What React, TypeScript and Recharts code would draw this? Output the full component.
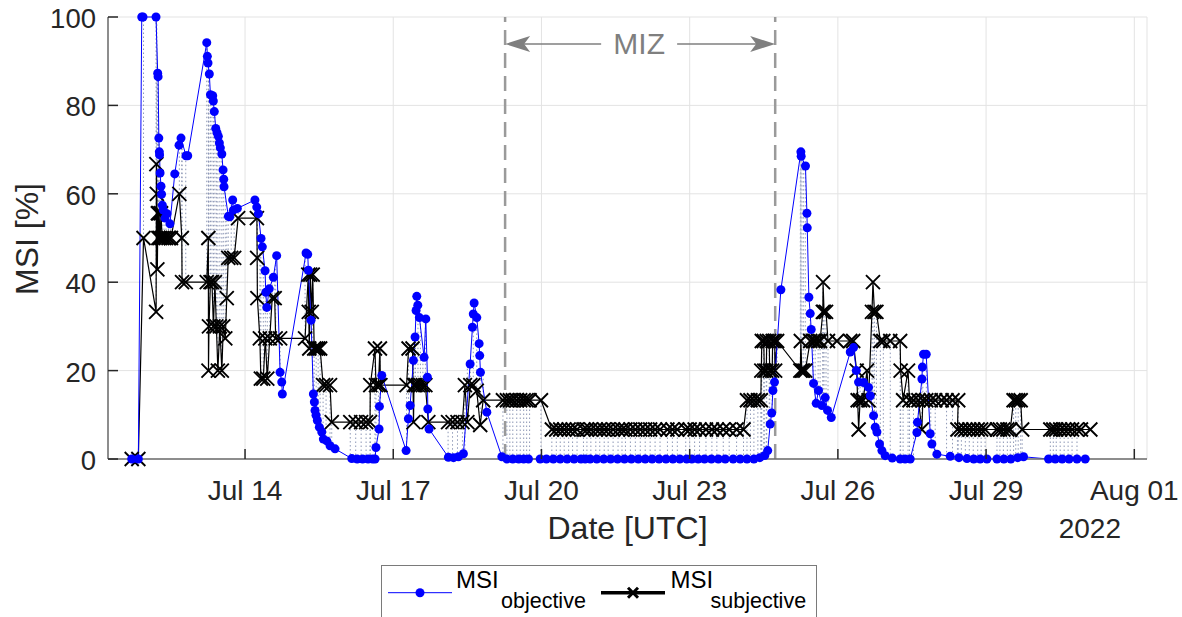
import { ComposedChart, Line, XAxis, YAxis, CartesianGrid, ReferenceLine, ErrorBar } from 'recharts';

// time axis in fractional days of July 2022 (Aug 01 = 32)
const xTicks = [14, 17, 20, 23, 26, 29, 32];
const xTickLabels = ['Jul 14', 'Jul 17', 'Jul 20', 'Jul 23', 'Jul 26', 'Jul 29', 'Aug 01'];
const yTicks = [0, 20, 40, 60, 80, 100];
const mizStart = 19.264;
const mizEnd = 24.731;

// [day, MSI %]
const objective: [number, number][] = [
  [11.706, 0], [11.84, 0], [11.909, 100], [11.935, 100], [12.198, 100], [12.232, 87.3], [12.24, 86.5],
  [12.255, 72.6], [12.265, 69.5], [12.27, 68.8], [12.28, 64.7], [12.299, 61.7], [12.31, 59.9], [12.326, 57.4],
  [12.346, 56.3], [12.38, 54.5], [12.42, 55.5], [12.48, 53.2], [12.577, 64.5], [12.664, 71], [12.704, 72.6],
  [12.805, 68.6], [12.84, 68.6],
  [13.225, 94.2], [13.237, 91.1], [13.25, 89.6], [13.277, 87.1], [13.3, 82.4], [13.346, 82.2], [13.358, 81],
  [13.378, 78.6], [13.407, 74.8], [13.433, 73.8], [13.46, 73], [13.48, 71.5], [13.5, 70.4], [13.53, 69],
  [13.555, 65.4], [13.569, 63.3], [13.575, 61.6], [13.662, 54.9], [13.69, 54.8], [13.75, 58.6], [13.763, 56.3],
  [13.844, 56.7],
  [14.2, 58.6], [14.237, 57], [14.27, 55.5], [14.324, 49.9], [14.35, 48], [14.405, 42.6], [14.42, 37.7],
  [14.44, 34.3], [14.49, 38.5], [14.573, 41.1], [14.64, 46], [14.709, 19.6], [14.743, 17.4], [14.755, 14.7],
  [15.235, 46.6], [15.269, 46.3], [15.282, 42.7], [15.336, 31.4], [15.383, 14.7], [15.403, 12.9], [15.417, 11],
  [15.437, 9.9], [15.464, 8.7], [15.504, 7.2], [15.553, 6.1], [15.585, 4.5], [15.654, 4.1], [15.721, 3],
  [15.822, 2.3], [16.16, 0.1], [16.27, 0], [16.38, 0], [16.49, 0], [16.58, 0], [16.632, 0], [16.65, 2.6],
  [16.713, 6.8], [16.72, 11.9], [16.768, 18.9],
  [17.26, 1.9], [17.306, 9.1], [17.341, 12.1], [17.408, 22.3], [17.442, 27.6], [17.462, 33.6], [17.476, 36.8],
  [17.497, 34.8], [17.529, 32], [17.624, 23], [17.659, 31.7], [17.691, 18.5], [17.7, 11.3], [17.725, 6.8],
  [18.116, 0.4], [18.22, 0.3], [18.32, 0.5], [18.42, 1.2], [18.556, 21.5], [18.603, 29.8], [18.62, 32.8],
  [18.637, 35.3], [18.691, 32], [18.738, 26.1], [18.75, 23.4], [18.765, 19.6], [18.894, 10.6],
  [19.198, 0.5], [19.3, 0], [19.42, 0], [19.54, 0], [19.64, 0], [19.737, 0], [19.973, 0], [20.1, 0], [20.24, 0],
  [20.38, 0], [20.52, 0], [20.66, 0], [20.8, 0], [20.884, 0], [20.985, 0], [21.12, 0], [21.26, 0], [21.4, 0],
  [21.54, 0], [21.68, 0], [21.82, 0], [21.96, 0], [22.1, 0], [22.24, 0], [22.38, 0], [22.52, 0], [22.66, 0],
  [22.8, 0], [22.94, 0], [23.044, 0], [23.172, 0], [23.3, 0], [23.44, 0], [23.58, 0], [23.72, 0], [23.88, 0],
  [24.022, 0], [24.16, 0], [24.3, 0], [24.42, 0.3], [24.52, 0.8], [24.58, 1.9], [24.63, 7.9], [24.66, 10.4],
  [24.685, 15.5], [24.717, 17.4], [24.846, 38.3],
  [25.251, 69.5], [25.257, 68.5], [25.344, 66.3], [25.373, 55.6], [25.38, 52.3], [25.413, 36.6], [25.44, 32.9],
  [25.46, 29.3], [25.507, 17.1], [25.561, 12.6], [25.608, 15.5], [25.677, 12.1], [25.744, 13.9], [25.791, 11],
  [25.866, 9.4],
  [26.25, 24.2], [26.317, 25.2], [26.372, 20], [26.418, 17.4], [26.52, 17.3], [26.621, 16.2], [26.655, 14.3],
  [26.722, 9.8], [26.756, 7.2], [26.79, 6.1], [26.843, 3.4], [26.891, 1.9], [26.958, 0.75], [27.1, 0.2],
  [27.262, 0], [27.36, 0], [27.464, 0], [27.6, 6], [27.61, 8.3], [27.701, 18.1], [27.71, 20.8], [27.734, 23.7],
  [27.788, 23.7], [27.869, 5.7], [27.903, 3.4], [28.004, 1.1], [28.274, 0.6], [28.45, 0.3], [28.612, 0.1],
  [28.75, 0], [28.88, 0], [29.017, 0], [29.22, 0], [29.36, 0], [29.5, 0], [29.64, 0.3], [29.758, 0.5],
  [30.264, 0], [30.4, 0], [30.54, 0], [30.68, 0], [30.839, 0], [31.007, 0],
];

const subjective: [number, number][] = [
  [11.706, 0], [11.84, 0], [11.945, 50], [12.2, 33.3], [12.205, 66.7], [12.215, 60], [12.225, 42.9],
  [12.235, 55.6], [12.245, 50], [12.26, 55.6], [12.28, 50], [12.3, 55.6], [12.32, 50], [12.36, 50], [12.4, 50],
  [12.45, 50], [12.5, 50], [12.67, 60], [12.72, 50], [12.725, 40], [12.8, 40],
  [13.225, 40], [13.257, 50], [13.26, 20], [13.27, 30], [13.3, 40], [13.33, 40], [13.36, 30], [13.39, 40],
  [13.42, 30], [13.45, 20], [13.49, 30], [13.53, 20], [13.56, 30], [13.6, 27.3], [13.63, 36.4], [13.66, 45.5],
  [13.72, 45.5], [13.78, 45.5], [13.86, 54.5],
  [14.24, 54.5], [14.245, 45.5], [14.25, 36.4], [14.3, 27.3], [14.32, 18.2], [14.37, 18.2], [14.41, 27.3],
  [14.45, 18.2], [14.5, 27.3], [14.55, 36.4], [14.6, 36.4], [14.62, 27.3], [14.71, 27.3],
  [15.215, 27.3], [15.28, 41.7], [15.29, 33.3], [15.3, 25], [15.32, 41.7], [15.35, 33.3], [15.37, 41.7],
  [15.4, 25], [15.44, 25], [15.48, 25], [15.52, 25], [15.58, 16.7], [15.64, 16.7], [15.72, 16.7], [15.755, 8.33],
  [16.13, 8.33], [16.24, 8.33], [16.35, 8.33], [16.45, 8.33], [16.53, 8.33], [16.535, 16.7], [16.63, 25],
  [16.65, 16.7], [16.7, 16.7], [16.73, 25], [16.74, 16.7],
  [17.27, 16.7], [17.31, 25], [17.39, 25], [17.41, 8.33], [17.42, 16.7], [17.45, 16.7], [17.5, 16.7],
  [17.55, 16.7], [17.6, 16.7], [17.65, 16.7], [17.71, 8.33],
  [18.11, 8.33], [18.2, 8.33], [18.3, 8.33], [18.4, 8.33], [18.45, 16.7], [18.5, 8.33], [18.56, 16.7],
  [18.62, 16.7], [18.69, 15.4], [18.76, 7.7], [18.82, 13.3],
  [19.22, 13.3], [19.3, 13.3], [19.36, 13.3], [19.42, 13.3], [19.5, 13.3], [19.57, 13.3], [19.64, 13.3],
  [19.7, 13.3], [19.76, 13.3], [19.99, 13.3],
  [20.21, 6.67], [20.3, 6.67], [20.38, 6.67], [20.46, 6.67], [20.55, 6.67], [20.63, 6.67], [20.72, 6.67],
  [20.85, 6.67], [20.92, 6.67], [21.0, 6.67], [21.1, 6.67], [21.18, 6.67], [21.27, 6.67], [21.35, 6.67],
  [21.45, 6.67], [21.55, 6.67], [21.63, 6.67], [21.7, 6.67], [21.8, 6.67], [21.9, 6.67], [22.0, 6.67],
  [22.1, 6.67], [22.2, 6.67], [22.3, 6.67], [22.4, 6.67], [22.55, 6.67], [22.65, 6.67], [22.75, 6.67],
  [22.92, 6.67], [23.0, 6.67], [23.1, 6.67], [23.2, 6.67], [23.33, 6.67], [23.45, 6.67], [23.55, 6.67],
  [23.68, 6.67], [23.8, 6.67], [23.95, 6.67], [24.09, 6.67],
  [24.16, 13.3], [24.23, 13.3], [24.3, 13.3], [24.38, 13.3], [24.44, 13.3], [24.45, 20], [24.46, 26.7],
  [24.5, 26.7], [24.51, 20], [24.55, 20], [24.56, 26.7], [24.61, 26.7], [24.62, 20], [24.67, 20],
  [24.68, 26.7], [24.72, 26.7], [24.73, 20], [24.77, 26.7],
  [25.24, 20], [25.25, 26.7], [25.27, 20], [25.3, 20], [25.34, 20], [25.44, 26.7], [25.5, 26.7],
  [25.54, 26.7], [25.6, 26.7], [25.64, 26.7], [25.695, 33.3], [25.7, 40], [25.72, 33.3], [25.76, 33.3],
  [25.8, 26.7], [25.98, 26.7],
  [26.25, 26.7], [26.31, 26.7], [26.38, 20], [26.4, 13.3], [26.42, 6.67], [26.45, 13.3], [26.51, 13.3],
  [26.59, 20], [26.62, 13.3], [26.69, 33.3], [26.71, 40], [26.74, 33.3], [26.78, 33.3], [26.86, 26.7],
  [26.92, 26.7], [27.06, 26.7], [27.26, 26.7], [27.27, 20], [27.32, 13.3], [27.42, 20], [27.45, 13.3],
  [27.53, 13.3], [27.63, 13.3], [27.7, 6.67], [27.72, 13.3], [27.79, 13.3], [27.88, 13.3], [27.97, 13.3],
  [28.1, 13.3], [28.2, 13.3], [28.32, 13.3], [28.436, 13.3], [28.42, 6.67], [28.5, 6.67], [28.58, 6.67],
  [28.66, 6.67], [28.74, 6.67], [28.83, 6.67], [28.9, 6.67], [28.98, 6.67], [29.22, 6.67], [29.28, 6.67],
  [29.35, 6.67], [29.43, 6.67], [29.49, 6.67], [29.556, 13.3], [29.6, 13.3], [29.65, 13.3], [29.7, 13.3],
  [29.73, 6.67], [30.3, 6.67], [30.36, 6.67], [30.42, 6.67], [30.5, 6.67], [30.58, 6.67], [30.66, 6.67],
  [30.74, 6.67], [30.84, 6.67], [30.92, 6.67], [31.11, 6.67],
];

const FONT = '"Liberation Sans", Arial, Helvetica, sans-serif';
const INK = '#262626';

const objData = objective.map(([t, v]) => ({ t, v }));

// dotted connector from each subjective point to the objective estimate closest in time
const subjData = subjective.map(([t, v]) => {
  let near = objective[0];
  for (const p of objective) if (Math.abs(p[0] - t) < Math.abs(near[0] - t)) near = p;
  const o = Math.abs(near[0] - t) < 0.08 ? near[1] : v;
  return { t, v, gap: [Math.max(0, v - o), Math.max(0, o - v)] };
});

const XTick = ({ x, y, payload }: any) => {
  const axisY = y - 6;
  return (
    <g>
      <line x1={x} x2={x} y1={axisY} y2={axisY - 10} stroke={INK} strokeWidth={1.5} />
      <text x={x} y={axisY + 41} textAnchor="middle" fontSize={28} fill={INK} fontFamily={FONT}>
        {xTickLabels[xTicks.indexOf(payload.value)]}
      </text>
    </g>
  );
};

const YTick = ({ x, y, payload }: any) => (
  <g>
    <line x1={x + 12} x2={x + 22} y1={y} y2={y} stroke={INK} strokeWidth={1.5} />
    <text x={x} y={y + 11} textAnchor="end" fontSize={27.5} fill={INK} fontFamily={FONT}>
      {payload.value}
    </text>
  </g>
);

const XMark = (props: any) => {
  const { cx, cy, index } = props;
  if (cx == null || cy == null) return <g key={`x-${index}`} />;
  const s = 7;
  return (
    <path
      key={`x-${index}`}
      d={`M${cx - s},${cy - s}L${cx + s},${cy + s}M${cx - s},${cy + s}L${cx + s},${cy - s}`}
      stroke="#000"
      strokeWidth={1.9}
      fill="none"
    />
  );
};

const MizArrow = (p: any) => {
  const { x1, x2, y1 } = p;
  const mid = (x1 + x2) / 2;
  const c = '#7f7f7f';
  return (
    <g>
      <line x1={x1 + 10} x2={mid - 39} y1={y1} y2={y1} stroke={c} strokeWidth={1.6} />
      <line x1={mid + 37} x2={x2 - 10} y1={y1} y2={y1} stroke={c} strokeWidth={1.6} />
      <path d={`M${x1},${y1}L${x1 + 25},${y1 - 8}L${x1 + 19},${y1}L${x1 + 25},${y1 + 8}Z`} fill={c} />
      <path d={`M${x2},${y1}L${x2 - 25},${y1 - 8}L${x2 - 19},${y1}L${x2 - 25},${y1 + 8}Z`} fill={c} />
      <text x={mid - 1} y={y1 + 10.5} textAnchor="middle" fontSize={30} fill={c} fontFamily={FONT}>MIZ</text>
    </g>
  );
};

export default function App() {
  return (
    <div style={{ position: 'absolute', left: 0, top: 0, width: 1182, height: 617, overflow: 'hidden', background: '#fff', fontFamily: FONT }}>
      <ComposedChart width={1182} height={617} margin={{ top: 17, right: 35, bottom: 0, left: 0 }}>
        <CartesianGrid stroke="#e3e3e3" strokeWidth={1} />
        <XAxis
          dataKey="t"
          type="number"
          domain={[11.226, 32.257]}
          allowDataOverflow
          ticks={xTicks}
          interval={0}
          height={158}
          tickSize={0}
          tickMargin={6}
          tickLine={false}
          tick={<XTick />}
          axisLine={{ stroke: '#6b6b6b', strokeWidth: 1.5 }}
        />
        <YAxis
          type="number"
          domain={[0, 100]}
          ticks={yTicks}
          interval={0}
          width={108}
          tickSize={0}
          tickMargin={12}
          tickLine={false}
          tick={<YTick />}
          axisLine={{ stroke: '#6b6b6b', strokeWidth: 1.5 }}
        />
        <ReferenceLine x={mizStart} stroke="#9a9a9a" strokeWidth={2.5} strokeDasharray="15 8" />
        <ReferenceLine x={mizEnd} stroke="#9a9a9a" strokeWidth={2.5} strokeDasharray="15 8" />
        <ReferenceLine segment={[{ x: mizStart, y: 93.9 }, { x: mizEnd, y: 93.9 }]} shape={MizArrow} />
        <Line
          data={subjData}
          dataKey="v"
          name="MSI subjective"
          type="linear"
          stroke="#000"
          strokeWidth={1.2}
          dot={XMark}
          activeDot={false}
          isAnimationActive={false}
        >
          <ErrorBar dataKey="gap" direction="y" width={0} stroke="#8e98b6" strokeWidth={1} strokeDasharray="1.5 2.5" />
        </Line>
        <Line
          data={objData}
          dataKey="v"
          name="MSI objective"
          type="linear"
          stroke="#0000ff"
          strokeWidth={1}
          dot={{ r: 4.5, fill: '#0000ff', stroke: 'none' }}
          activeDot={false}
          isAnimationActive={false}
        />
      </ComposedChart>

      <svg width={1182} height={617} style={{ position: 'absolute', left: 0, top: 0, pointerEvents: 'none' }}>
        <text x={627.5} y={539} textAnchor="middle" fontSize={32} fill={INK} fontFamily={FONT}>Date [UTC]</text>
        <text x={1121} y={538} textAnchor="end" fontSize={28} fill={INK} fontFamily={FONT}>2022</text>
        <text transform="translate(38,239) rotate(-90)" textAnchor="middle" fontSize={32} fill={INK} fontFamily={FONT}>MSI [%]</text>
      </svg>

      <svg width={437} height={53} style={{ position: 'absolute', left: 381, top: 565 }}>
        <rect x={0.5} y={0.5} width={435} height={80} fill="#fff" stroke="#7a7a7a" strokeWidth={1} />
        <line x1={7} x2={71} y1={27.7} y2={27.7} stroke="#0000ff" strokeWidth={1} />
        <circle cx={39} cy={27.7} r={4.5} fill="#0000ff" />
        <text x={75} y={22.5} fontSize={24} fill="#000" fontFamily={FONT}>MSI</text>
        <text x={120} y={42.5} fontSize={21.5} fill="#000" fontFamily={FONT}>objective</text>
        <line x1={220} x2={284} y1={27.7} y2={27.7} stroke="#000" strokeWidth={3.5} />
        <path d="M247,22.7L257,32.7M247,32.7L257,22.7" stroke="#000" strokeWidth={3} />
        <text x={289.5} y={22.5} fontSize={24} fill="#000" fontFamily={FONT}>MSI</text>
        <text x={329.5} y={42.5} fontSize={21.5} fill="#000" fontFamily={FONT}>subjective</text>
      </svg>
    </div>
  );
}
